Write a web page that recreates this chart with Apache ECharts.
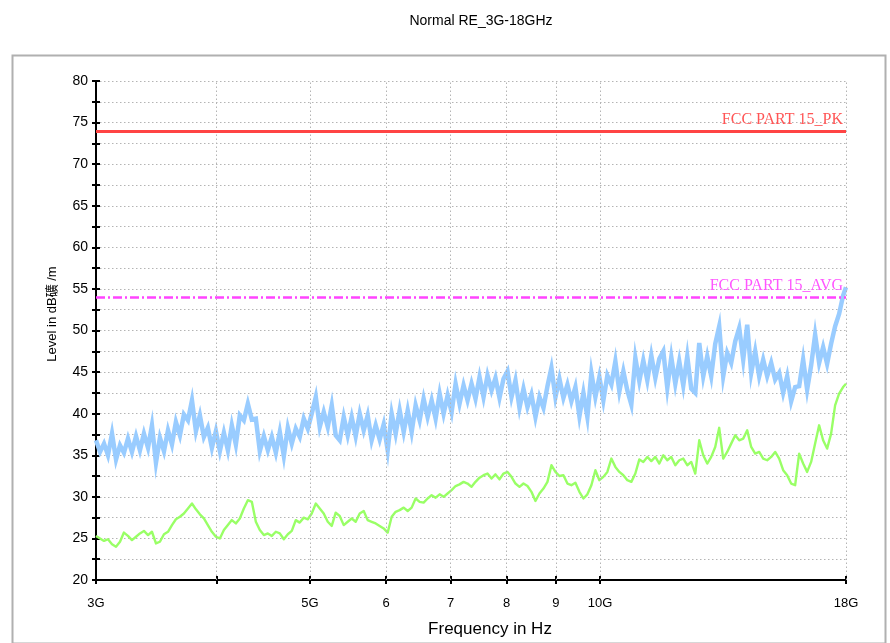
<!DOCTYPE html>
<html>
<head>
<meta charset="utf-8">
<script src="https://cdn.jsdelivr.net/npm/echarts@6/dist/echarts.min.js"></script>
<style>html,body{margin:0;padding:0;background:#fff;}#c{width:890px;height:643px;}</style>
</head>
<body>
<div id="c"></div>
<script>
// Sweep frequencies in GHz
var freqGHz = [3.000,3.029,3.058,3.087,3.117,3.147,3.177,3.207,3.238,3.269,
3.301,3.332,3.364,3.397,3.429,3.462,3.495,3.529,3.563,3.597,
3.631,3.666,3.701,3.737,3.773,3.809,3.845,3.882,3.919,3.957,
3.995,4.033,4.072,4.111,4.150,4.190,4.230,4.271,4.312,4.353,
4.395,4.437,4.480,4.523,4.566,4.610,4.654,4.699,4.744,4.789,
4.835,4.881,4.928,4.976,5.023,5.072,5.120,5.169,5.219,5.269,
5.319,5.370,5.422,5.474,5.526,5.579,5.633,5.687,5.741,5.796,
5.852,5.908,5.965,6.022,6.080,6.138,6.197,6.257,6.317,6.377,
6.438,6.500,6.562,6.625,6.689,6.753,6.818,6.883,6.949,7.016,
7.083,7.150,7.219,7.288,7.358,7.428,7.500,7.572,7.644,7.718,
7.791,7.866,7.942,8.018,8.095,8.172,8.251,8.330,8.410,8.490,
8.572,8.654,8.737,8.821,8.905,8.991,9.077,9.164,9.252,9.340,
9.430,9.521,9.612,9.704,9.797,9.891,9.986,10.082,10.178,10.276,
10.375,10.474,10.575,10.676,10.778,10.882,10.986,11.091,11.198,11.305,
11.414,11.523,11.634,11.745,11.858,11.972,12.086,12.202,12.319,12.437,
12.557,12.677,12.799,12.921,13.045,13.170,13.296,13.424,13.552,13.682,
13.815,13.947,14.081,14.216,14.352,14.490,14.629,14.769,14.911,15.054,
15.198,15.344,15.491,15.640,15.790,15.941,16.094,16.248,16.404,16.562,
16.720,16.881,17.043,17.206,17.371,17.538,17.706,17.876,18.000];

// Peak trace (light blue), dBuV/m
var peakTrace = [36.8,35.4,36.4,35.0,37.6,34.5,36.2,35.3,37.0,35.4,
37.3,35.6,37.6,35.9,38.6,34.1,37.1,35.5,38.0,36.3,
39.0,37.4,39.9,39.2,41.6,37.9,39.8,37.2,38.3,35.9,
37.9,35.5,37.7,35.6,38.6,36.3,39.8,39.2,41.2,39.3,
39.4,35.5,37.3,35.6,37.2,35.3,37.8,34.9,38.3,36.4,
38.2,37.2,39.4,38.2,40.0,42.0,38.4,40.2,38.4,41.0,
37.4,36.8,39.6,37.4,39.6,37.3,40.0,38.0,39.8,36.8,
38.6,36.9,38.7,35.6,40.0,37.6,40.4,37.8,40.4,37.8,
41.0,39.2,41.8,39.6,41.6,39.4,42.4,40.0,42.2,40.2,
43.6,41.2,43.4,41.6,43.6,41.8,44.4,42.0,44.6,42.8,
44.3,41.9,44.2,45.1,42.0,44.0,40.7,43.0,40.8,42.3,
39.6,42.0,40.7,43.3,45.5,42.0,44.2,41.9,43.5,41.5,
43.2,39.7,42.5,39.6,44.9,42.0,44.4,41.6,44.6,43.5,
46.3,42.7,45.1,42.8,41.1,46.7,43.9,46.4,44.0,47.0,
44.3,46.6,47.5,43.1,46.8,43.6,46.3,43.4,46.9,43.0,
42.5,48.5,44.5,46.9,44.5,48.4,50.5,44.5,47.3,46.1,
48.7,50.3,46.5,50.7,44.9,47.5,44.5,46.5,44.5,46.1,
44.1,44.9,42.5,44.5,41.5,43.2,43.3,46.5,42.9,45.8,
49.5,46.1,48.0,46.0,48.4,50.5,52.0,54.2,55.2];

// Average trace (light green), dBuV/m
var avgTrace = [25.3,25.0,24.7,24.9,24.3,24.0,24.6,25.7,25.3,24.8,
25.2,25.6,25.9,25.4,25.8,24.4,24.6,25.5,25.8,26.6,
27.3,27.6,28.0,28.6,29.2,28.5,27.9,27.4,26.6,25.8,
25.2,25.0,26.0,26.6,27.2,26.8,27.4,28.6,29.6,29.4,
27.0,26.0,25.4,25.6,25.3,25.8,25.6,24.9,25.5,25.9,
27.2,26.9,27.5,27.3,28.0,29.2,28.6,28.0,27.0,26.5,
28.1,27.7,26.6,27.0,27.4,27.0,28.0,28.3,27.2,27.0,
26.8,26.5,26.2,25.7,27.6,28.2,28.4,28.7,28.3,28.7,
29.8,29.4,29.3,29.8,30.2,29.9,30.3,30.0,30.4,30.8,
31.3,31.5,31.8,31.6,31.2,31.8,32.3,32.6,32.8,32.2,
32.7,32.1,32.8,33.0,32.4,31.6,31.2,31.6,31.3,30.6,
29.5,30.4,31.0,31.8,33.8,33.0,32.5,32.6,31.6,31.4,
31.7,30.6,29.8,30.3,31.4,33.2,32.0,32.4,33.0,34.6,
33.6,33.0,32.6,32.0,31.8,32.8,34.5,34.2,34.8,34.3,
34.8,34.0,35.0,34.4,34.8,33.8,34.4,34.6,33.8,34.2,
32.8,36.8,35.0,34.0,34.8,36.0,38.3,34.6,35.4,36.4,
37.4,36.8,37.0,38.0,36.0,35.2,35.4,34.6,34.4,34.8,
35.4,34.6,33.2,32.6,31.6,31.4,35.2,34.0,33.0,34.2,
36.4,38.6,36.8,35.8,37.6,41.0,42.4,43.2,43.6];

// Limit lines
var limitNames = ['FCC PART 15_PK', 'FCC PART 15_AVG'];
var limitValues = [74, 54];

// Axis ticks
var xTickValues = [3, 4, 5, 6, 7, 8, 9, 10, 18];
var xLabelValues = [3, 5, 6, 7, 8, 9, 10, 18];
var xLabelTexts = ['3G', '5G', '6', '7', '8', '9', '10G', '18G'];
var xGridValues = [4, 5, 6, 7, 8, 9, 10, 18];
var yMin = 20, yMax = 80, yStep = 2.5;

var chart = echarts.init(document.getElementById('c'), null, {renderer: 'canvas'});

function pairs(vals) { return freqGHz.map(function (f, i) { return [f, vals[i]]; }); }
function xLabel(v) {
  for (var i = 0; i < xLabelValues.length; i++) {
    if (Math.abs(v - xLabelValues[i]) < 1e-6) return xLabelTexts[i];
  }
  return '';
}
var sans = '"Liberation Sans", Arial, "Noto Sans CJK SC", sans-serif';
var gridLine = {color: '#b4b4b4', width: 1, type: [1.5, 2.5]};

var option = {
  animation: false,
  backgroundColor: '#fff',
  title: {
    text: 'Normal RE_3G-18GHz',
    left: 476, top: 9, textAlign: 'center',
    textStyle: {fontFamily: sans, fontSize: 14, fontWeight: 'normal', color: '#000'}
  },
  graphic: [
    {type: 'rect', left: 10, top: 53, shape: {width: 873, height: 588}, style: {fill: null, stroke: '#b0b0b0', lineWidth: 2}, z: -1},
    {type: 'text', x: 52, y: 314, rotation: Math.PI / 2,
      style: {text: 'Level in dB礦 /m', fontFamily: sans, fontSize: 13, fill: '#000', textAlign: 'center', textVerticalAlign: 'middle'}},
    {type: 'text', x: 490, y: 629,
      style: {text: 'Frequency in Hz', fontFamily: sans, fontSize: 17, fill: '#000', textAlign: 'center', textVerticalAlign: 'middle'}}
  ],
  grid: {left: 96, right: 44, top: 81, bottom: 63, containLabel: false},
  xAxis: [{
    type: 'log', logBase: 10, min: 3, max: 18,
    axisLine: {show: true, lineStyle: {color: '#000', width: 2}},
    axisTick: {show: true, customValues: xTickValues, length: 4, lineStyle: {color: '#000', width: 2}},
    axisLabel: {customValues: xLabelValues, formatter: xLabel, color: '#000', fontFamily: sans, fontSize: 13, margin: 17},
    splitLine: {show: false}, minorTick: {show: false}
  }, {
    type: 'log', logBase: 10, min: 3, max: 18, position: 'bottom',
    axisLine: {show: false},
    axisTick: {show: true, inside: true, customValues: xTickValues, length: 4, lineStyle: {color: '#000', width: 2}},
    axisLabel: {show: false}, splitLine: {show: false}
  }],
  yAxis: [{
    type: 'value', min: yMin, max: yMax, interval: yStep,
    axisLine: {show: true, lineStyle: {color: '#000', width: 2}},
    axisTick: {show: true, length: 4, lineStyle: {color: '#000', width: 2}},
    axisLabel: {formatter: function (v) { return v % 5 === 0 ? String(v) : ''; }, color: '#000', fontFamily: sans, fontSize: 14, margin: 8},
    splitLine: {show: true, lineStyle: gridLine}
  }, {
    type: 'value', min: yMin, max: yMax, interval: yStep, position: 'left',
    axisLine: {show: false},
    axisTick: {show: true, inside: true, length: 4, lineStyle: {color: '#000', width: 2}},
    axisLabel: {show: false}, splitLine: {show: false}
  }],
  series: [
    {
      name: 'grid', type: 'line', data: [], silent: true,
      markLine: {silent: true, symbol: ['none', 'none'], label: {show: false},
        lineStyle: gridLine, data: xGridValues.map(function (v) { return {xAxis: v}; })}
    },
    {
      name: 'AVG', type: 'line', data: pairs(avgTrace), showSymbol: false, symbol: 'none',
      lineStyle: {color: '#99ff66', width: 2.4, join: 'round'}, itemStyle: {color: '#99ff66'}, z: 3
    },
    {
      name: 'PK', type: 'line', data: pairs(peakTrace), showSymbol: false, symbol: 'none',
      lineStyle: {color: '#99ccff', width: 4.5, join: 'miter'}, itemStyle: {color: '#99ccff'}, z: 3
    },
    {
      name: limitNames[0], type: 'line', data: [], z: 4,
      markLine: {silent: true, symbol: ['none', 'none'],
        lineStyle: {color: '#ff4444', width: 3, type: 'solid'},
        label: {show: true, position: 'insideEndTop', distance: 3, formatter: limitNames[0], color: '#ff5555', fontFamily: '"Liberation Serif", serif', fontSize: 16},
        data: [{yAxis: limitValues[0]}]}
    },
    {
      name: limitNames[1], type: 'line', data: [], z: 4,
      markLine: {silent: true, symbol: ['none', 'none'],
        lineStyle: {color: '#ff44ff', width: 2.5, type: [9, 3, 2, 3]},
        label: {show: true, position: 'insideEndTop', distance: 3, formatter: limitNames[1], color: '#ff55ff', fontFamily: '"Liberation Serif", serif', fontSize: 16},
        data: [{yAxis: limitValues[1]}]}
    }
  ]
};
chart.setOption(option);
</script>
</body>
</html>
